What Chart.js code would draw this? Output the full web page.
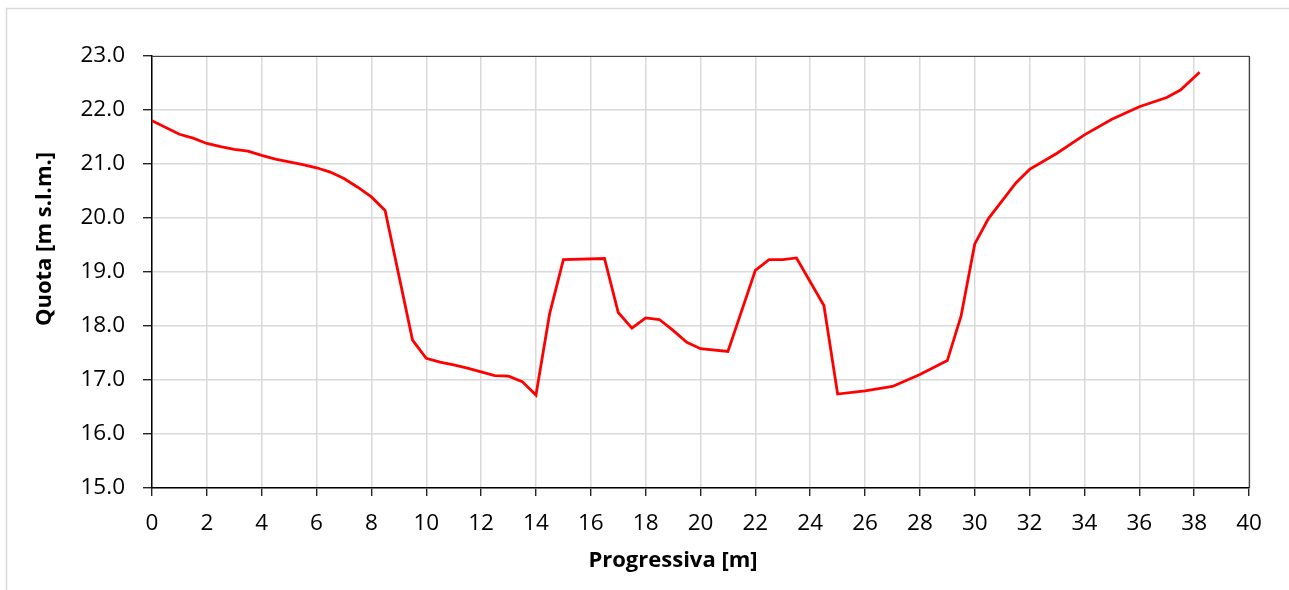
<!DOCTYPE html>
<html>
<head>
<meta charset="utf-8">
<script src="https://cdn.jsdelivr.net/npm/chart.js@4/dist/chart.umd.min.js"></script>
<style>
  html, body { margin: 0; padding: 0; background: #fff; }
  #wrap { width: 1289px; height: 590px; position: relative; }
</style>
</head>
<body>
<div id="wrap"><canvas id="c" width="1289" height="590"></canvas></div>
<script>
// Progressiva [m]
const progressiva = [0, 1, 1.5, 2, 2.5, 3, 3.5, 4, 4.5, 5, 5.5, 6, 6.5, 7, 7.5, 8, 8.5,
  9.5, 10, 10.5, 11, 11.5, 12, 12.5, 13, 13.5, 14, 14.5, 15, 16.5, 17, 17.5, 18, 18.5,
  19, 19.5, 20, 21, 22, 22.5, 23, 23.5, 24.5, 25, 26, 27, 28, 29, 29.5, 30, 30.5,
  31.5, 32, 33, 34, 35, 36, 37, 37.5, 38.2];
// Quota [m s.l.m.]
const quota = [21.80, 21.55, 21.48, 21.38, 21.32, 21.27, 21.24, 21.16, 21.09, 21.04, 20.99, 20.93, 20.85, 20.73, 20.57, 20.39, 20.14,
  17.74, 17.40, 17.33, 17.28, 17.22, 17.15, 17.08, 17.07, 16.97, 16.72, 18.23, 19.23, 19.25, 18.25, 17.96, 18.15, 18.12,
  17.92, 17.70, 17.58, 17.53, 19.03, 19.23, 19.23, 19.26, 18.38, 16.74, 16.80, 16.88, 17.10, 17.36, 18.18, 19.52, 19.99,
  20.65, 20.90, 21.20, 21.54, 21.83, 22.06, 22.23, 22.37, 22.70];

const xTitle = 'Progressiva [m]';
const yTitle = 'Quota [m s.l.m.]';

const points = progressiva.map((x, i) => ({ x: x, y: quota[i] }));

const FONT = "'Open Sans', 'Noto Sans', sans-serif";

const framePlugin = {
  id: 'frame',
  beforeDraw(chart) {
    const ctx = chart.ctx;
    ctx.save();
    ctx.fillStyle = '#fff';
    ctx.fillRect(0, 0, chart.width, chart.height);
    ctx.strokeStyle = '#d9d9d9';
    ctx.lineWidth = 1.5;
    ctx.strokeRect(6.5, 8.5, chart.width + 20, chart.height + 20);
    ctx.restore();
  },
  afterDatasetsDraw(chart) {
    const a = chart.chartArea;
    const ctx = chart.ctx;
    ctx.save();
    ctx.strokeStyle = '#404040';
    ctx.lineWidth = 1.2;
    ctx.beginPath();
    ctx.moveTo(a.left, a.top + 0.5);
    ctx.lineTo(a.right + 0.5, a.top + 0.5);
    ctx.lineTo(a.right + 0.5, a.bottom);
    ctx.stroke();
    ctx.restore();
  },
  afterDraw(chart) {
    const ctx = chart.ctx;
    ctx.save();
    ctx.fillStyle = '#000';
    ctx.font = "bold 22px " + FONT;
    ctx.textAlign = 'center';
    ctx.textBaseline = 'middle';
    ctx.fillText(xTitle, 673, 561);
    ctx.translate(45, 239);
    ctx.rotate(-Math.PI / 2);
    ctx.fillText(yTitle, 0, 0);
    ctx.restore();
  }
};

new Chart(document.getElementById('c'), {
  type: 'scatter',
  data: {
    datasets: [{
      data: points,
      showLine: true,
      borderColor: '#ff0000',
      backgroundColor: '#ff0000',
      borderWidth: 2.8,
      pointRadius: 0,
      pointHoverRadius: 0,
      tension: 0,
      fill: false
    }]
  },
  options: {
    responsive: false,
    animation: false,
    events: [],
    layout: { padding: { left: 0, right: 40, top: 56, bottom: 0 } },
    plugins: { legend: { display: false }, tooltip: { enabled: false } },
    scales: {
      x: {
        type: 'linear',
        min: 0, max: 40,
        afterFit(scale) { scale.height = 102; },
        ticks: {
          stepSize: 2,
          color: '#000',
          font: { family: FONT, size: 22.5 },
          padding: 14,
          maxRotation: 0
        },
        grid: {
          color: '#d9d9d9',
          lineWidth: 1.5,
          tickColor: '#000',
          tickLength: 8,
          tickWidth: 1.2
        },
        border: { color: '#000', width: 1.5 },
        title: { display: false, text: xTitle }
      },
      y: {
        type: 'linear',
        min: 15, max: 23,
        afterFit(scale) { scale.width = 152; },
        ticks: {
          stepSize: 1,
          color: '#000',
          font: { family: FONT, size: 22.5 },
          padding: 18,
          callback: v => Number(v).toFixed(1)
        },
        grid: {
          color: '#d9d9d9',
          lineWidth: 1.5,
          tickColor: '#000',
          tickLength: 9,
          tickWidth: 1.2
        },
        border: { color: '#000', width: 1.5 },
        title: { display: false, text: yTitle }
      }
    }
  },
  plugins: [framePlugin]
});
</script>
</body>
</html>
